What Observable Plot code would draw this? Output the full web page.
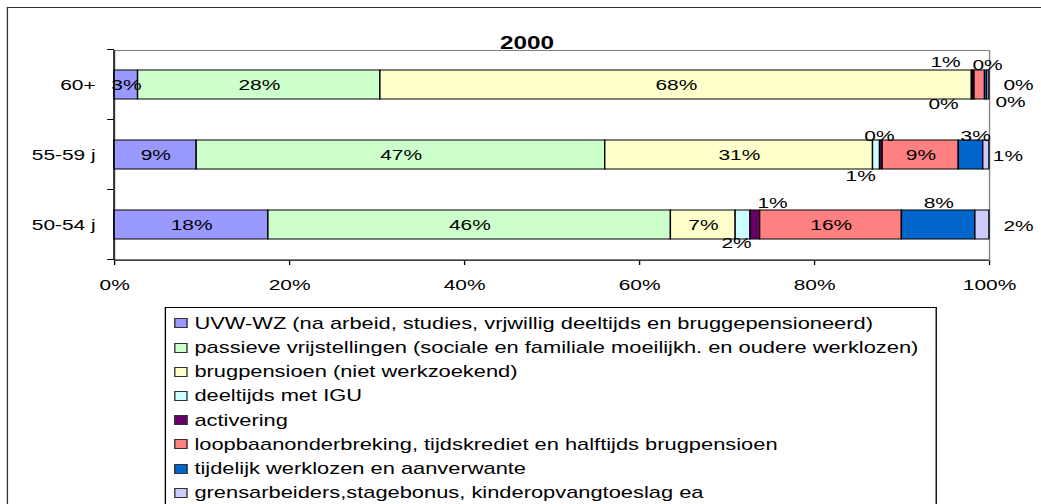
<!DOCTYPE html>
<html><head><meta charset="utf-8">
<script src="https://cdn.jsdelivr.net/npm/d3@7"></script>
<script src="https://cdn.jsdelivr.net/npm/@observablehq/plot@0.6"></script>
<style>
html,body{margin:0;padding:0;background:#fff;overflow:hidden;width:1041px;height:504px;}
#wrap{position:absolute;left:0;top:0;width:771px;height:504px;transform:scaleX(1.35);transform-origin:0 0;font-family:"Liberation Sans",Arial,sans-serif;}
#frame{position:absolute;left:5px;top:7px;width:900px;height:600px;border:1.5px solid #333;}
#chart{position:absolute;left:0;top:0;}
#legend{position:absolute;left:122px;top:307px;width:570px;height:300px;border:1px solid #000;background:#fff;}
.item{position:absolute;left:6px;height:24px;display:flex;align-items:center;font-size:16.2px;white-space:nowrap;color:#000;}
.sw{width:8px;height:8px;border:1px solid #333;margin-right:5px;flex:none;}
</style>
</head><body>
<div id="wrap">
  <div id="frame"></div>
  <div id="chart"></div>
  <div id="legend"></div>
</div>
<script>
const categories = ["60+", "55-59 j", "50-54 j"];
const series = [
  "UVW-WZ (na arbeid, studies, vrjwillig deeltijds en bruggepensioneerd)",
  "passieve vrijstellingen (sociale en familiale moeilijkh. en oudere werklozen)",
  "brugpensioen (niet werkzoekend)",
  "deeltijds met IGU",
  "activering",
  "loopbaanonderbreking, tijdskrediet en halftijds brugpensioen",
  "tijdelijk werklozen en aanverwante",
  "grensarbeiders,stagebonus, kinderopvangtoeslag ea"
];
// values in %, per category in the order of `categories`
const uvw        = [2.7, 9.4, 17.6];
const passieve   = [27.7, 46.7, 46.0];
const brug       = [67.6, 30.6, 7.4];
const deeltijds  = [0.1, 0.8, 1.7];
const activering = [0.2, 0.3, 1.1];
const loopbaan   = [1.2, 8.7, 16.2];
const tijdelijk  = [0.25, 2.8, 8.4];
const grens      = [0.25, 0.7, 1.6];
const seriesValues = [uvw, passieve, brug, deeltijds, activering, loopbaan, tijdelijk, grens];
const colors = ["#9999FF", "#CCFFCC", "#FFFFCC", "#CCFFFF", "#660066", "#FF8080", "#0066CC", "#CCCCFF"];
const xTicks = [0, 20, 40, 60, 80, 100];
const title = "2000";

// label offsets (pixels) for labels moved out of small segments: "category|seriesIndex"
const labelOffsets = {
  "60+|3": [-21.4, 19.5], "60+|4": [10.2, -19.5], "60+|5": [-25.5, -23], "60+|6": [23.9, 0.5], "60+|7": [16.4, 17],
  "55-59 j|3": [-11.9, 21.5], "55-59 j|4": [-1.5, -18.5], "55-59 j|6": [3.3, -18.5], "55-59 j|7": [15.9, 1],
  "50-54 j|3": [-5, 18.5], "50-54 j|4": [12.6, -21.5], "50-54 j|6": [0, -21.5], "50-54 j|7": [26.7, 1.5]
};

const rows = [];
categories.forEach((cat, ci) => {
  let acc = 0;
  series.forEach((s, si) => {
    const v = seriesValues[si][ci];
    rows.push({cat, series: s, si, value: v, x1: acc, x2: acc + v, label: Math.round(v) + "%"});
    acc += v;
  });
});

const FONT = "'Liberation Sans', Arial, sans-serif";

function axisLines(index, scales, values, dims) {
  const x = scales.x, y = scales.y;
  const g = d3.create("svg:g").attr("stroke", "#000").attr("stroke-width", 1);
  const x0 = x(0);
  const top = dims.marginTop, bottom = dims.height - dims.marginBottom;
  const right = dims.width - dims.marginRight;
  g.append("line").attr("x1", x0).attr("x2", x0).attr("y1", top).attr("y2", bottom);
  g.append("line").attr("x1", x0).attr("x2", right).attr("y1", bottom).attr("y2", bottom);
  let bw = typeof y.bandwidth === "function" ? y.bandwidth() : (scales.scales && scales.scales.y ? scales.scales.y.bandwidth : 0);
  let step = typeof y.step === "function" ? y.step() : (scales.scales && scales.scales.y ? scales.scales.y.step : (bottom - top) / categories.length);
  const bounds = categories.map(c => y(c) + bw / 2 - step / 2);
  bounds.push(y(categories[categories.length - 1]) + bw / 2 + step / 2);
  bounds.forEach(b => g.append("line").attr("x1", x0 - 5).attr("x2", x0).attr("y1", b).attr("y2", b));
  return g.node();
}

const marks = [
  Plot.frame({stroke: "#808080"}),
  Plot.barX(rows, {x1: "x1", x2: "x2", y: "cat", fill: "series", stroke: "#000", strokeWidth: 1}),
  axisLines
];
const groups = d3.group(rows, d => (labelOffsets[d.cat + "|" + d.si] || [0, 0]).join(","));
for (const [k, g] of groups) {
  const [dx, dy] = k.split(",").map(Number);
  marks.push(Plot.text(g, {x: d => (d.x1 + d.x2) / 2, y: "cat", text: "label", dx, dy, fill: "#000", fontSize: 15.5}));
}
marks.push(Plot.text([title], {text: d => d, frameAnchor: "top", dy: -14.5, dx: -18.5, fontWeight: "bold", fontSize: 18, fill: "#000"}));

const chart = Plot.plot({
  width: 771, height: 300,
  marginTop: 50, marginBottom: 40, marginLeft: 84.4, marginRight: 38.5,
  style: {fontFamily: FONT, fontSize: "15.5px", color: "#000", background: "transparent", overflow: "visible"},
  x: {domain: [0, 100], ticks: xTicks, tickFormat: d => d + "%", tickSize: 5, tickPadding: 13.5, label: null},
  y: {domain: categories, paddingInner: 0.58, paddingOuter: 0.29, align: 0.5, label: null, tickSize: 0, tickPadding: 14},
  color: {domain: series, range: colors},
  marks
});
document.getElementById("chart").appendChild(chart);

const legend = document.getElementById("legend");
series.forEach((s, i) => {
  const item = document.createElement("div");
  item.className = "item";
  item.style.top = (322.3 + 24.2 * i - 307 - 12) + "px";
  const sw = document.createElement("span");
  sw.className = "sw";
  sw.style.background = colors[i];
  const t = document.createElement("span");
  t.textContent = s;
  item.appendChild(sw); item.appendChild(t);
  legend.appendChild(item);
});
</script>
</body></html>
